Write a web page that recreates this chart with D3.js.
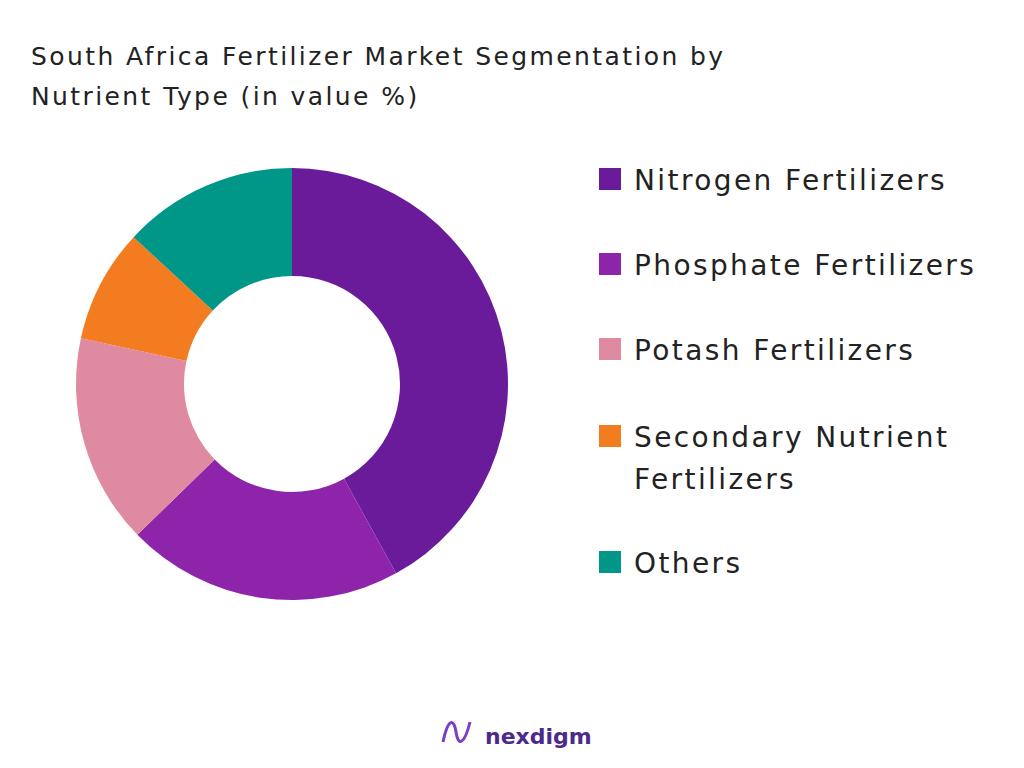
<!DOCTYPE html><html><head><meta charset="utf-8"><script src="https://cdn.jsdelivr.net/npm/d3@7"></script>
<style>body{margin:0;background:#fff}</style></head><body><svg id="c" width="1024" height="768"></svg>
<script>
const categories=["Nitrogen Fertilizers","Phosphate Fertilizers","Potash Fertilizers","Secondary Nutrient Fertilizers","Others"];
const legendLines=[["Nitrogen Fertilizers"],["Phosphate Fertilizers"],["Potash Fertilizers"],["Secondary Nutrient","Fertilizers"],["Others"]];
const values=[42,20.7,15.7,8.5,13.1];
const colors=["#6a1b9a","#8e24aa","#de8aa0","#f47c20","#009688"];
const svg=d3.select("#c");const F="'DejaVu Sans',sans-serif";
svg.append("text").attr("x",31).attr("y",65).attr("font-family",F).attr("font-size",25).attr("letter-spacing",2.4).attr("fill","#222").text("South Africa Fertilizer Market Segmentation by");
svg.append("text").attr("x",31).attr("y",105).attr("font-family",F).attr("font-size",25).attr("letter-spacing",2.4).attr("fill","#222").text("Nutrient Type (in value %)");
const pie=d3.pie().sort(null)(values);
const arc=d3.arc().innerRadius(108).outerRadius(216);
const g=svg.append("g").attr("transform","translate(292,384)");
g.selectAll("path").data(pie).join("path").attr("d",arc).attr("fill",(d,i)=>colors[i]);
const ys=[180,265,350,437,563];
legendLines.forEach((ls,i)=>{
 svg.append("rect").attr("x",599).attr("y",ys[i]-12).attr("width",22).attr("height",22).attr("fill",colors[i]);
 ls.forEach((t,j)=>svg.append("text").attr("x",634).attr("y",ys[i]+10+j*42).attr("font-family",F).attr("font-size",28).attr("letter-spacing",2.4).attr("fill","#222").text(t));
});
const lg=svg.append("g").attr("transform","translate(440,718)");
lg.append("path").attr("d","M3,24 C8,0 14,0 16,14 C18,28 24,28 30,4").attr("fill","none").attr("stroke","#7b3fc4").attr("stroke-width",3);
svg.append("text").attr("x",485).attr("y",744).attr("font-family",F).attr("font-weight",700).attr("font-size",22).attr("fill","#4a2a8a").text("nexdigm");
</script></body></html>
